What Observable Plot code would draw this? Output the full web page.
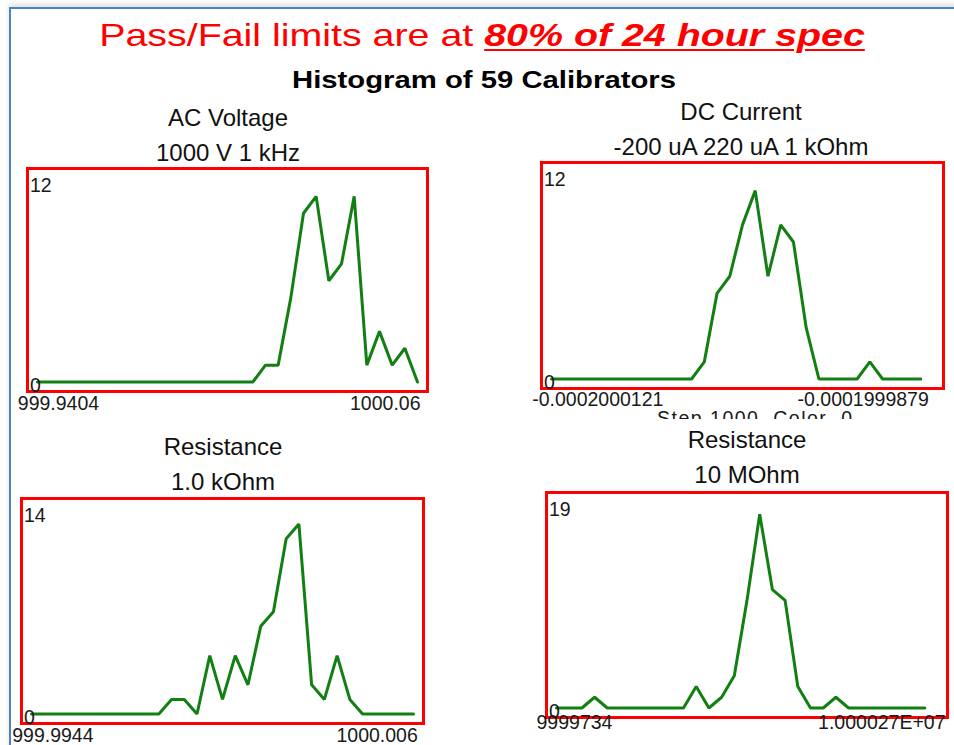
<!DOCTYPE html>
<html>
<head>
<meta charset="utf-8">
<script src="https://cdn.jsdelivr.net/npm/d3@7"></script>
<script src="https://cdn.jsdelivr.net/npm/@observablehq/plot@0.6"></script>
<style>
  html, body { margin: 0; padding: 0; background: #fff; }
  #root { position: relative; width: 954px; height: 745px; overflow: hidden; background: #fff;
          font-family: "Liberation Sans", Arial, sans-serif; }
  .abs { position: absolute; white-space: nowrap; }
  .sub { font-size: 24px; line-height: 24px; color: #111; transform: translateX(-50%); }
</style>
</head>
<body>
<div id="root"></div>
<script>
// ---------------- data ----------------
const mainTitleRegular = "Pass/Fail limits are at ";
const mainTitleEmphasis = "80% of 24 hour spec";
const chartTitle = "Histogram of 59 Calibrators";

const panelTitles = ["AC Voltage", "DC Current", "Resistance", "Resistance"];
const panelSubtitles = ["1000 V 1 kHz", "-200 uA 220 uA 1 kOhm", "1.0 kOhm", "10 MOhm"];

// histogram counts per bin (bin index 0..30)
const acVoltageCounts = [0,0,0,0,0,0,0,0,0,0,0,0,0,0,0,0,0,0, 1,1,5,10,11,6,7,11,1,3,1,2,0];
const dcCurrentCounts = [0,0,0,0,0,0,0,0,0,0,0,0, 1,5,6,9,11,6,9,8,3,0,0,0,0,1,0,0,0,0];
const res1kCounts     = [0,0,0,0,0,0,0,0,0,0,0, 1,1,0,4,1,4,2,6,7,12,13,2,1,4,1,0,0,0,0,0];
const res10MCounts    = [0,0,0,1,0,0,0,0,0,0,0,2,0,1,3,10,18,11,10,2,0,0,1,0,0,0,0,0,0,0];

const binDomain = [0, 30];
const yTopLabels = [12, 12, 14, 19];
const xLeftLabels = ["999.9404", "-0.0002000121", "999.9944", "9999734"];
const xRightLabels = ["1000.06", "-0.0001999879", "1000.006", "1.000027E+07"];
const hiddenCaption = "Step 1000  Color  0";

const seriesList = [acVoltageCounts, dcCurrentCounts, res1kCounts, res10MCounts];

// ---------------- layout ----------------
const FONT = '"Liberation Sans", Arial, sans-serif';
const TICK_FS = 19.5;
const layout = [
  {frame: [27, 168, 427, 391], titleX: 228, titleBase: 126.5, xlabDy: 12,  leftDx: -9.7, rightDx: -7},
  {frame: [541, 162, 943, 388], titleX: 741, titleBase: 120.5, xlabDy: 11,  leftDx: -9.3, rightDx: -14.7},
  {frame: [21, 498, 423, 723], titleX: 223, titleBase: 455.5, xlabDy: 12, leftDx: -9.3, rightDx: -5.7},
  {frame: [546, 492, 947, 717], titleX: 747, titleBase: 448.5, xlabDy: 5, leftDx: -10, rightDx: -2}
];

const root = document.getElementById("root");

function addDiv(html, style, cls) {
  const d = document.createElement("div");
  d.className = "abs" + (cls ? " " + cls : "");
  d.innerHTML = html;
  Object.assign(d.style, style);
  root.appendChild(d);
  return d;
}

// slide border (blue)
addDiv("", {left: "9px", top: "7px", width: "960px", height: "760px",
  borderTop: "2px solid #4f81bd", borderLeft: "2px solid #4f81bd",
  boxShadow: "0 -3px 5px rgba(0,0,0,0.12)"});

// main title
addDiv(mainTitleRegular + '<span style="font-weight:bold;font-style:italic;text-decoration:underline;text-decoration-thickness:2px;text-underline-offset:3px">' + mainTitleEmphasis + '</span>',
  {left: "482px", top: "19px", fontSize: "32px", lineHeight: "32px", color: "#ff0000",
   transform: "translateX(-50%) scaleX(1.23)", transformOrigin: "center"});

// chart title
addDiv(chartTitle, {left: "484px", top: "67.7px", fontSize: "24px", lineHeight: "24px", color: "#000",
  fontWeight: "bold", transform: "translateX(-50%) scaleX(1.22)", transformOrigin: "center"});

// panels
layout.forEach((lay, i) => {
  const [L, T, R, B] = lay.frame;
  addDiv(panelTitles[i], {left: lay.titleX + "px", top: (lay.titleBase - 20.3) + "px"}, "sub");
  addDiv(panelSubtitles[i], {left: lay.titleX + "px", top: (lay.titleBase + 35 - 20.3) + "px"}, "sub");

  const ml = 24, mr = 16, mt = 6, mb = 32;
  const counts = seriesList[i];
  const chart = Plot.plot({
    width: (R - L) + ml + mr,
    height: (B - T) + mt + mb,
    marginLeft: ml, marginRight: mr, marginTop: mt, marginBottom: mb,
    style: {fontFamily: FONT, fontSize: TICK_FS + "px", background: "transparent", overflow: "visible", color: "#1a1a1a"},
    x: {domain: binDomain, insetLeft: 10, insetRight: 10, axis: null},
    y: {domain: [0, yTopLabels[i]], insetTop: 11, insetBottom: 9.5, axis: null},
    marks: [
      Plot.frame({stroke: "#ff0000", strokeWidth: 3}),
      Plot.lineY(counts, {x: (d, j) => j, y: d => d, stroke: "#127f12", strokeWidth: 3, strokeLinejoin: "miter"}),
      Plot.text([0], {y: d => d, text: d => String(d), frameAnchor: "left", lineAnchor: "middle", textAnchor: "start", dx: 2.5, dy: 3.5, fontSize: TICK_FS, fill: "#1a1a1a"}),
      Plot.text([yTopLabels[i]], {y: d => d, text: d => String(d), frameAnchor: "left", lineAnchor: "middle", textAnchor: "start", dx: 2.5, dy: 6, fontSize: TICK_FS, fill: "#1a1a1a"}),
      Plot.text([xLeftLabels[i]], {text: d => d, frameAnchor: "bottom-left", lineAnchor: "middle", textAnchor: "start", dx: lay.leftDx, dy: lay.xlabDy, fontSize: TICK_FS, fill: "#1a1a1a"}),
      Plot.text([xRightLabels[i]], {text: d => d, frameAnchor: "bottom-right", lineAnchor: "middle", textAnchor: "end", dx: lay.rightDx, dy: lay.xlabDy, fontSize: TICK_FS, fill: "#1a1a1a"})
    ]
  });
  chart.style.position = "absolute";
  chart.style.left = (L - ml) + "px";
  chart.style.top = (T - mt) + "px";
  root.appendChild(chart);
});

// partially hidden caption beneath the DC Current panel (only the top of its letters shows)
const clip = addDiv("", {left: "640px", top: "411px", width: "220px", height: "8px", overflow: "hidden"});
const inner = document.createElement("div");
inner.textContent = hiddenCaption;
Object.assign(inner.style, {position: "absolute", left: "17px", top: "-2.5px", fontSize: "19.5px", lineHeight: "19.5px",
  color: "#1a1a1a", whiteSpace: "pre", fontFamily: FONT, letterSpacing: "1.5px"});
clip.appendChild(inner);
</script>
</body>
</html>
